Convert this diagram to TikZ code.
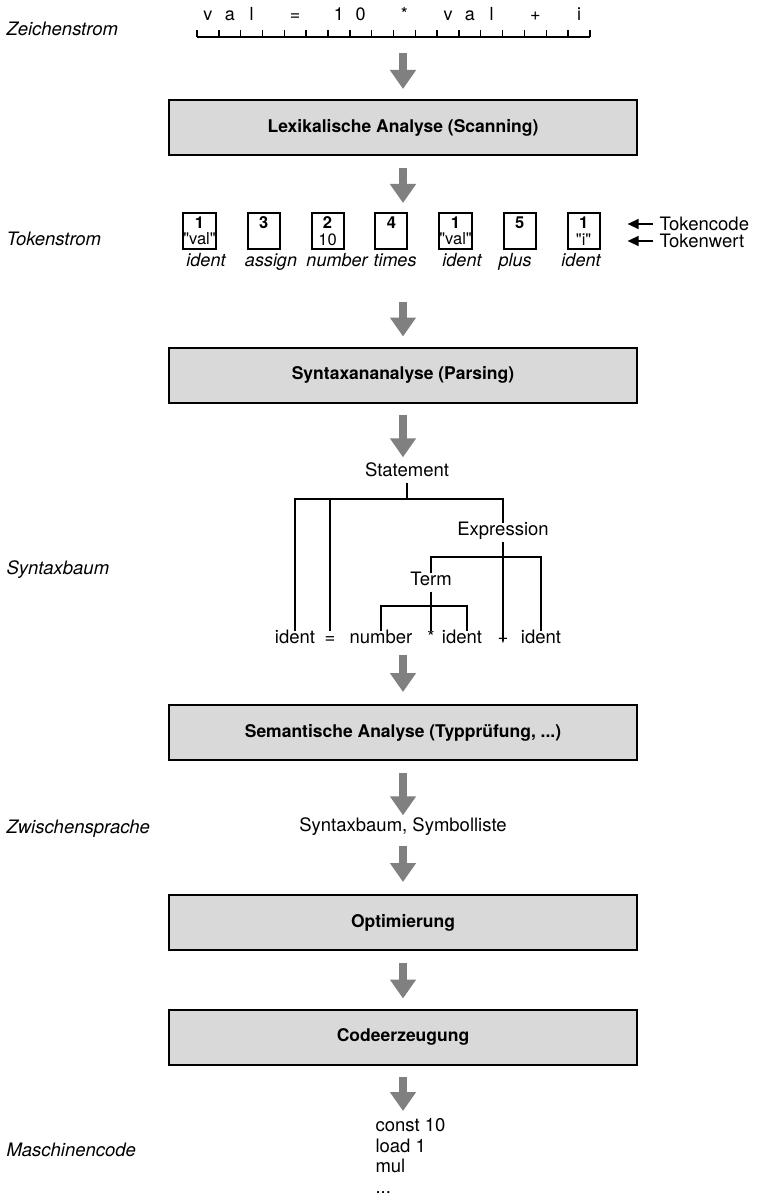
\documentclass[tikz,border=0pt]{standalone}
\usepackage{fontspec}
\setmainfont{TeX Gyre Heros}
\usetikzlibrary{arrows.meta,positioning}
\definecolor{boxgray}{gray}{0.85}
\definecolor{flowgray}{gray}{0.5}
\begin{document}
\begin{tikzpicture}[x=1pt,y=-1pt,
font=\fontsize{18.5}{22}\selectfont,
stage/.style={draw, line width=2pt, fill=boxgray, minimum width=468pt, minimum height=55pt, font=\fontsize{17.5}{21}\selectfont\bfseries},
flow/.style={draw=flowgray, line width=7.5pt, -{Triangle[length=19pt,width=25pt]}},
side/.style={anchor=base west, font=\fontsize{18.5}{22}\selectfont\itshape},
token/.style={draw, line width=2pt, minimum width=32pt, minimum height=36pt, inner sep=0pt, align=center, font=\fontsize{16.5}{16.5}\selectfont},
kind/.style={anchor=base, font=\fontsize{18}{21}\selectfont\itshape},
ptr/.style={line width=1.5pt, -{Triangle[length=11pt,width=10pt]}},
tree/.style={anchor=base, inner sep=4pt, text height=0.75em, text depth=0.25em},
edge/.style={line width=1.5pt}
]
\useasboundingbox (0,0) rectangle (760,1198);

% Zeichenstrom
\node[side] (zs) at (3,36) {Zeichenstrom};
\coordinate (tape) at (403,37);
\draw[line width=1.6pt] (197,37) -- (590,37);
\foreach \i in {0,...,18}
	\draw[line width=1.4pt] ({197+21.83*\i},37) -- ++(0,-7);
\foreach \i/\c in {1/v,2/a,3/l,5/=,7/1,8/0,10/*,12/v,13/a,14/l,16/+,18/i}
	\node[anchor=base, font=\fontsize{18}{20}\selectfont] (c\i) at ({197+21.83*\i-10.9},21) {\c};

\node[stage] (lex) at (403,127.5) {Lexikalische Analyse (Scanning)};
\draw[flow, shorten <=16pt, shorten >=10pt] (tape) -- (lex);

% Tokenstrom
\node[side] (ts) at (3,245) {Tokenstrom};
\coordinate (toks) at (403,213);
\draw[flow, shorten <=12pt, shorten >=10pt] (lex) -- (toks);
\node[token] (t1) at (199.5,231) {\textbf{1}\\\textquotedbl val\textquotedbl};
\node[token, right=29.9pt of t1] (t2) {\textbf{3}\\\mbox{}};
\node[token, right=29.9pt of t2] (t3) {\textbf{2}\\10};
\node[token, right=29.9pt of t3] (t4) {\textbf{4}\\\mbox{}};
\node[token, right=29.9pt of t4] (t5) {\textbf{1}\\\textquotedbl val\textquotedbl};
\node[token, right=29.9pt of t5] (t6) {\textbf{5}\\\mbox{}};
\node[token, right=29.9pt of t6] (t7) {\textbf{1}\\\textquotedbl i\textquotedbl};
\node[kind] (k1) at (206,266) {ident};
\node[kind] (k2) at (271,266) {assign};
\node[kind] (k3) at (337,266) {number};
\node[kind] (k4) at (395,266) {times};
\node[kind] (k5) at (462,266) {ident};
\node[kind] (k6) at (515,266) {plus};
\node[kind] (k7) at (581,266) {ident};
\node[anchor=west] (tcode) at (656,224) {Tokencode};
\node[anchor=west] (twert) at (656,241) {Tokenwert};
\draw[ptr, shorten <=3pt, shorten >=27pt] (tcode.west) -- (tcode.west -| t7.east);
\draw[ptr, shorten <=3pt, shorten >=27pt] (twert.west) -- (twert.west -| t7.east);

\coordinate (tokbot) at (403,290);
\node[stage] (syn) at (403,375) {Syntaxananalyse (Parsing)};
\draw[flow, shorten <=12pt, shorten >=10pt] (tokbot) -- (syn);

% Syntaxbaum
\node[side] (sb) at (3,574) {Syntaxbaum};
\node[tree] (stmt) at (407,476) {Statement};
\node[tree] (expr) at (503,535) {Expression};
\node[tree] (term) at (431,585) {Term};
\node[tree] (l1) at (295,643) {ident};
\node[tree] (l2) at (330,643) {=};
\node[tree] (l3) at (381,643) {number};
\node[tree] (l4) at (431,643) {*};
\node[tree] (l5) at (462,643) {ident};
\node[tree] (l6) at (503,643) {+};
\node[tree] (l7) at (541,643) {ident};
\coordinate (sbar) at (0,499);
\coordinate (ebar) at (0,557);
\coordinate (tbar) at (0,606);
\draw[flow, shorten <=11pt, shorten >=7pt] (syn.south) -- (syn.south |- stmt.north);
\draw[edge] (stmt.south) -- (stmt.south |- sbar);
\draw[edge] (l1.north) |- (expr.north |- sbar) -- (expr.north);
\draw[edge] (l2.north) -- (l2.north |- sbar);
\draw[edge] (expr.south) -- (l6.center);
\draw[edge] (term.north) |- (l7.north |- ebar) -- (l7.north);
\draw[edge] (term.south) -- (l4.north);
\draw[edge] (l3.north) |- ([xshift=5pt]l5.north |- tbar) -- ([xshift=5pt]l5.north);

\node[stage] (sem) at (403,732.5) {Semantische Analyse (Typprüfung, ...)};
\draw[flow, shorten <=5pt, shorten >=12pt] (sem.north |- l4.south) -- (sem.north);

% Zwischensprache
\node[side] (zsp) at (3,833) {Zwischensprache};
\node[tree] (zw) at (403,831) {Syntaxbaum, Symbolliste};
\draw[flow, shorten <=12pt, shorten >=4pt] (sem) -- (zw);

\node[stage] (opt) at (403,922.5) {Optimierung};
\draw[flow, shorten <=8pt, shorten >=12pt] (zw) -- (opt);

\node[stage] (code) at (403,1037) {Codeerzeugung};
\draw[flow, shorten <=12pt, shorten >=10pt] (opt) -- (code);

% Maschinencode
\node[side] (mcl) at (3,1156) {Maschinencode};
\node[anchor=north west, align=left, font=\fontsize{18.5}{20.5}\selectfont] (mc) at (372,1115) {const 10\\load 1\\mul\\...};
\draw[flow, shorten <=11pt, shorten >=4pt] (code.south) -- (code.south |- mc.north);
\end{tikzpicture}
\end{document}
